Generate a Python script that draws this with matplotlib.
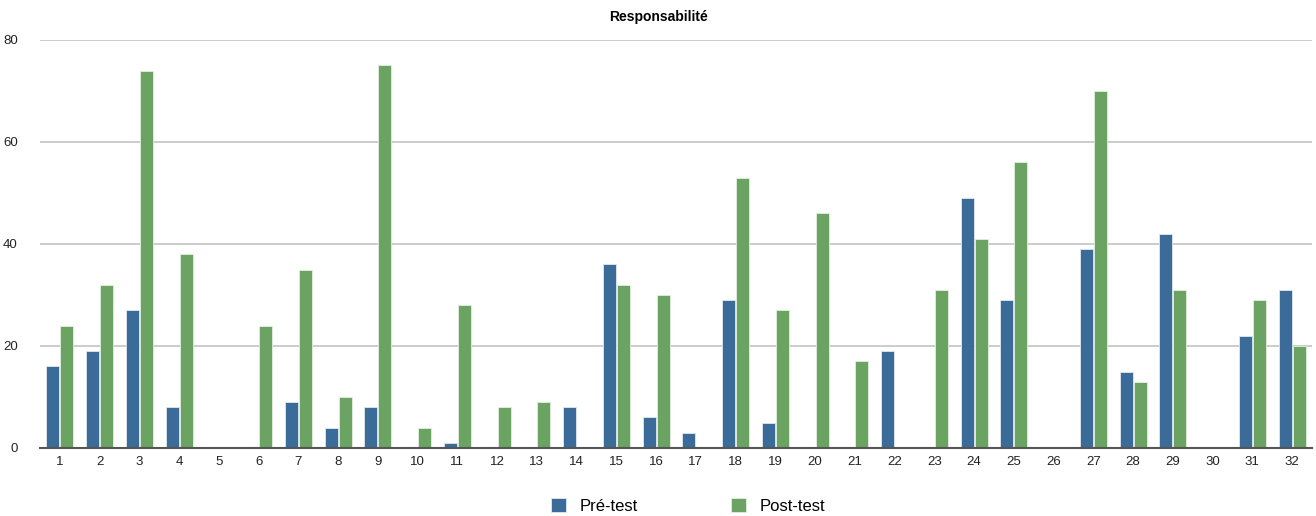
import numpy as np
import matplotlib.pyplot as plt

plt.rcParams['font.family'] = ['Liberation Sans', 'DejaVu Sans']

# Scores per student (1..32)
students = list(range(1, 33))
pre_test = [16, 19, 27, 8, 0, 0, 9, 4, 8, 0, 1, 0, 0, 8, 36, 6,
            3, 29, 5, 0, 0, 19, 0, 49, 29, 0, 39, 15, 42, 0, 22, 31]
post_test = [24, 32, 74, 38, 0, 24, 35, 10, 75, 4, 28, 8, 9, 0, 32, 30,
             0, 53, 27, 46, 17, 0, 31, 41, 56, 0, 70, 13, 31, 0, 29, 20]

blue = '#3a6b99'
green = '#6ba363'

fig = plt.figure(figsize=(13.16, 5.16), dpi=100)
ax = fig.add_axes([40 / 1316, 68 / 516, 1272 / 1316, 408 / 516])

x = np.array(students)
w = 0.33
ax.bar(x - w / 2 - 0.01, pre_test, w, color=blue, edgecolor='#dfe8f0',
       linewidth=0.6, label='Pré-test', zorder=3)
ax.bar(x + w / 2 + 0.01, post_test, w, color=green, edgecolor='#e4efe2',
       linewidth=0.6, label='Post-test', zorder=3)

ax.set_xlim(0.5, 32.5)
ax.set_ylim(0, 80)
ax.set_yticks([0, 20, 40, 60, 80])
ax.set_xticks(x)
ax.set_xticklabels([str(s) for s in students])
ax.yaxis.grid(True, color='#c4c4c4', linewidth=1.2, zorder=0)
ax.set_axisbelow(True)
for side in ['top', 'right', 'left']:
    ax.spines[side].set_visible(False)
ax.spines['bottom'].set_color('#555555')
ax.spines['bottom'].set_linewidth(1.5)
ax.spines['bottom'].set_zorder(4)
ax.tick_params(axis='both', length=0, labelsize=9.5, colors='#222222')
ax.tick_params(axis='y', pad=16)
ax.tick_params(axis='x', pad=6)

fig.text(0.5, 0.968, 'Responsabilité', ha='center', va='center',
         fontsize=10, fontweight='bold')

fig.legend(loc='center', bbox_to_anchor=(0.523, 0.02), ncol=2, frameon=False,
           fontsize=12, handlelength=0.9, handleheight=0.9,
           columnspacing=5.6, handletextpad=0.8)

fig.savefig('out.png', dpi=100)
